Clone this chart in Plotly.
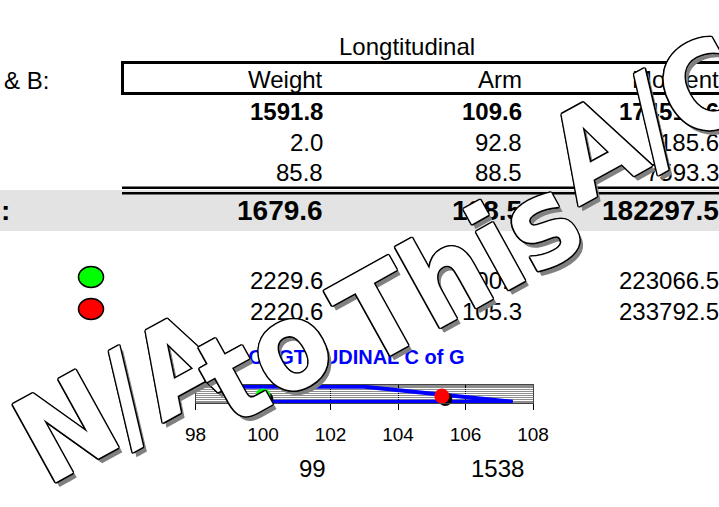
import plotly.graph_objects as go

W, H = 719, 507

# ---------------- data ----------------
columns = ["Weight", "Arm", "Moment"]
item_weights = [1591.8, 2.0, 85.8]
item_arms = [109.6, 92.8, 88.5]
item_moments = [174518.6, 185.6, 7593.3]
total = [1679.6, 108.5, 182297.5]
limit_green = [2229.6, 100.0, 223066.5]
limit_red = [2220.6, 105.3, 233792.5]
extra_cells = ["99", "1538"]

env_arm = [99, 99, 103, 107.4, 99]
env_wt = [1538, 3300, 3300, 1538, 1538]
cg_arm = [limit_green[1], limit_red[1]]
cg_wt = [limit_green[0], limit_red[0]]
zfw_arm = [100.1, 105.4]
zfw_wt = [1870, 1870]
x_ticks = [98, 100, 102, 104, 106, 108]

watermark_words = ["N/A", "to", "This", "A/C"]


def px(x):
    return x / W


def py(y):
    return 1 - y / H


FONT = "Liberation Sans, Arial, sans-serif"

fig = go.Figure()

fig.add_trace(go.Scatter(x=env_arm, y=env_wt, mode="lines",
                         line=dict(color="#0000ff", width=4), hoverinfo="skip"))
fig.add_trace(go.Scatter(x=zfw_arm, y=zfw_wt, mode="markers",
                         marker=dict(color="black", size=14), cliponaxis=False))
fig.add_trace(go.Scatter(x=cg_arm, y=cg_wt, mode="markers",
                         marker=dict(color=["#00ff00", "#ff0000"], size=15),
                         cliponaxis=False))

shapes = []
# grey dotted total band
shapes.append(dict(type="rect", xref="paper", yref="paper", x0=px(0), x1=px(W),
                   y0=py(190), y1=py(231), fillcolor="#e3e3e3", line=dict(width=0),
                   layer="below"))
# header box
for yy in (62.5, 93.5):
    shapes.append(dict(type="line", xref="paper", yref="paper", x0=px(121), x1=px(W),
                       y0=py(yy), y1=py(yy), line=dict(color="black", width=3)))
shapes.append(dict(type="line", xref="paper", yref="paper", x0=px(122.5), x1=px(122.5),
                   y0=py(61), y1=py(95), line=dict(color="black", width=3)))
# double line above total
for yy in (187.7, 193.3):
    shapes.append(dict(type="line", xref="paper", yref="paper", x0=px(122), x1=px(W),
                       y0=py(yy), y1=py(yy), line=dict(color="black", width=2.5)))
# legend ellipses
for cy, col in ((277, "#00ff00"), (309, "#ff0000")):
    shapes.append(dict(type="circle", xref="paper", yref="paper",
                       x0=px(78.5), x1=px(103.5), y0=py(cy - 10.5), y1=py(cy + 10.5),
                       fillcolor=col, line=dict(color="black", width=1.5)))

ann = []


def txt(x, y, s, size=24, bold=False, anchor="right", color="black"):
    ann.append(dict(x=px(x), y=py(y), xref="paper", yref="paper", text=s,
                    showarrow=False, xanchor=anchor, yanchor="middle",
                    font=dict(family=FONT, size=size, color=color,
                              weight="bold" if bold else "normal")))


col_right = [325, 524, 721]
txt(407, 46, "Longtitudinal", anchor="center")
txt(2, 80, "& B:", anchor="left")
for c, name in enumerate(columns):
    txt(col_right[c], 79, name)

row_y = [111, 142, 173]
for i in range(3):
    vals = [f"{item_weights[i]:.1f}", f"{item_arms[i]:.1f}", f"{item_moments[i]:.1f}"]
    for c in range(3):
        txt(col_right[c], row_y[i], vals[c], bold=(i == 0))

txt(-1, 210, ":", size=28, bold=True, anchor="left")
for c in range(3):
    txt(col_right[c], 210, f"{total[c]:.1f}", size=28, bold=True)

for yy, vals in ((280, limit_green), (311, limit_red)):
    for c in range(3):
        txt(col_right[c], yy, f"{vals[c]:.1f}")

txt(350, 357, "LONGTITUDINAL C of G", size=20, bold=True, anchor="center", color="#0000ff")
txt(312, 468, extra_cells[0], anchor="center")
txt(497, 468, extra_cells[1], anchor="center")

# watermark, word by word along the diagonal
shadow = ("1.5px 0 0 #000, -1.5px 0 0 #000, 0 1.5px 0 #000, 0 -1.5px 0 #000, "
          "1px 1px 0 #000, -1px -1px 0 #000, 1px -1px 0 #000, -1px 1px 0 #000, "
          "1px 6px 0 #808080")
word_pos = [(121, 398), (266, 360), (458, 270), (648, 120)]
for word, (wx, wy) in zip(watermark_words, word_pos):
    ann.append(dict(x=px(wx), y=py(wy), xref="paper", yref="paper",
                    text=word, showarrow=False, xanchor="center",
                    yanchor="middle", textangle=-29,
                    font=dict(family="Liberation Sans Narrow, DejaVu Sans Condensed, Arial",
                              size=122, color="white", weight="bold", shadow=shadow)))

fig.update_layout(
    width=W, height=H, margin=dict(l=0, r=0, t=0, b=0, autoexpand=False), autosize=False,
    paper_bgcolor="white", plot_bgcolor="#8e8e8e", showlegend=False,
    shapes=shapes, annotations=ann,
    xaxis=dict(domain=[px(195.5), px(533)], range=[98, 108], tickvals=x_ticks,
               ticks="outside", ticklen=6, tickcolor="black", showgrid=True,
               gridcolor="black", gridwidth=1, showline=True, linecolor="#444",
               mirror=True, zeroline=False, ticklabelstandoff=8, automargin=False,
               tickfont=dict(family=FONT, size=19, color="black")),
    yaxis=dict(domain=[py(403), py(385)], range=[1400, 3510], tick0=1400, dtick=250,
               showticklabels=False, ticks="", showgrid=True, gridcolor="white",
               gridwidth=1, showline=True, linecolor="#444", mirror=True,
               zeroline=False, automargin=False),
)

fig.write_html(
    "out.html",
    config={"displayModeBar": False},
    post_script="document.body.style.margin='0';document.body.style.overflow='hidden';",
)
